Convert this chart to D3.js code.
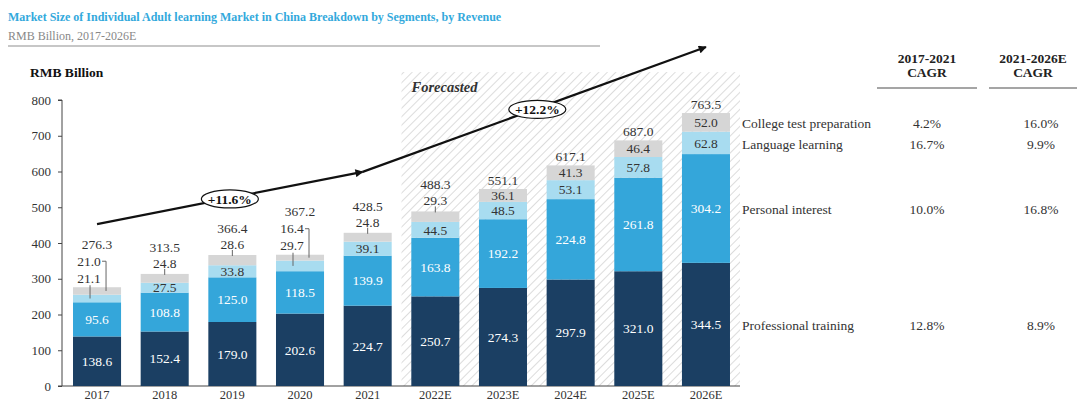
<!DOCTYPE html>
<html>
<head>
<meta charset="utf-8">
<script src="https://cdn.jsdelivr.net/npm/d3@7"></script>
<style>
body { margin: 0; background: #fff; }
svg { font-family: "Liberation Serif", "Times New Roman", serif; }
</style>
</head>
<body>
<svg class="chart"></svg>
<script>
// data
var years = ["2017", "2018", "2019", "2020", "2021", "2022E", "2023E", "2024E", "2025E", "2026E"];
var forecastYears = ["2022E", "2023E", "2024E", "2025E", "2026E"];
var professional = [138.6, 152.4, 179.0, 202.6, 224.7, 250.7, 274.3, 297.9, 321.0, 344.5];
var personal = [95.6, 108.8, 125.0, 118.5, 139.9, 163.8, 192.2, 224.8, 261.8, 304.2];
var language = [21.1, 27.5, 33.8, 29.7, 39.1, 44.5, 48.5, 53.1, 57.8, 62.8];
var college = [21.0, 24.8, 28.6, 16.4, 24.8, 29.3, 36.1, 41.3, 46.4, 52.0];
var totals = [276.3, 313.5, 366.4, 367.2, 428.5, 488.3, 551.1, 617.1, 687.0, 763.5];
var segments = ["Professional training", "Personal interest", "Language learning", "College test preparation"];
var cagrHist = ["12.8%", "10.0%", "16.7%", "4.2%"];
var cagrFcst = ["8.9%", "16.8%", "9.9%", "16.0%"];
var cagrHeads = [["2017-2021", "CAGR"], ["2021-2026E", "CAGR"]];
var yTicks = [0, 100, 200, 300, 400, 500, 600, 700, 800];
var trend = [
    {from: "2017", v0: 453, to: "2021", v1: 599, label: "+11.6%"},
    {from: "2021", v0: 599, to: "2026E", v1: 948, label: "+12.2%"}
];

var colors = ["#1b3f63", "#34a6da", "#a8dcf0", "#d6d6d6"];
var txtColors = ["#fff", "#fff", "#333", "#333"];

// which years have the small segments called out above the bar
var bracketYears = ["2017", "2020"];
var tickYears = ["2018", "2019", "2021", "2022E"];

var width = 1077, height = 403;
var svg = d3.select(".chart").attr("width", width).attr("height", height);

var defs = svg.append("defs");
var pat = defs.append("pattern")
    .attr("id", "hatch")
    .attr("patternUnits", "userSpaceOnUse")
    .attr("width", 6).attr("height", 6)
    .attr("patternTransform", "rotate(45)");
pat.append("line").attr("x1", 0).attr("y1", 0).attr("x2", 0).attr("y2", 6)
    .attr("stroke", "#dcdcdc").attr("stroke-width", 2);

defs.append("marker")
    .attr("id", "arrow")
    .attr("viewBox", "0 0 10 10")
    .attr("refX", 9).attr("refY", 5)
    .attr("markerWidth", 9).attr("markerHeight", 8)
    .attr("markerUnits", "userSpaceOnUse")
    .attr("orient", "auto")
    .append("path").attr("d", "M0,0 L10,5 L0,10 z").attr("fill", "#111");

// title
svg.append("text").attr("x", 8).attr("y", 21)
    .attr("font-size", 12).attr("font-weight", "bold").attr("fill", "#33a9dc")
    .text("Market Size of Individual Adult learning Market in China Breakdown by Segments, by Revenue");
svg.append("text").attr("x", 8).attr("y", 40)
    .attr("font-size", 12).attr("fill", "#888")
    .text("RMB Billion, 2017-2026E");
svg.append("line").attr("x1", 8).attr("x2", 600).attr("y1", 46).attr("y2", 46)
    .attr("stroke", "#b5b5b5").attr("stroke-width", 1.5);

// scales
var x = d3.scaleBand().domain(years).range([63, 740]).paddingInner(0.29).paddingOuter(0.148);
var y = d3.scaleLinear().domain([0, 800]).range([386, 100]);

// forecast area
var fx0 = x(forecastYears[0]) - x.step() * x.paddingInner() / 2;
svg.append("rect")
    .attr("x", fx0).attr("y", y(878))
    .attr("width", x.range()[1] - fx0).attr("height", y(0) - y(878))
    .attr("fill", "url(#hatch)");
svg.append("text").attr("x", fx0 + 10).attr("y", y(878) + 20)
    .attr("font-size", 14.5).attr("font-weight", "bold").attr("font-style", "italic").attr("fill", "#333")
    .text("Forecasted");

svg.append("text").attr("x", 30).attr("y", 77)
    .attr("font-size", 13.5).attr("font-weight", "bold").attr("fill", "#111")
    .text("RMB Billion");

// axes
var yAxis = svg.append("g").attr("transform", "translate(62,0)")
    .call(d3.axisLeft(y).tickValues(yTicks).tickSize(4).tickPadding(7));
yAxis.selectAll("text").attr("font-size", 13).attr("font-family", "Liberation Serif").attr("fill", "#333");
yAxis.selectAll("line, path").attr("stroke", "#444");
yAxis.select(".domain").attr("d", "M-4," + y(800) + "H0V" + y(0));

var xAxis = svg.append("g").attr("transform", "translate(0," + y(0) + ")")
    .call(d3.axisBottom(x).tickSize(0).tickPadding(4));
xAxis.selectAll("text").attr("font-size", 12.5).attr("font-family", "Liberation Serif").attr("fill", "#333");
xAxis.select(".domain").attr("stroke", "#444").attr("d", "M58,0H" + x.range()[1]);

// stacked bars
var rows = years.map(function (yr, i) {
    return {year: yr, s0: professional[i], s1: personal[i], s2: language[i], s3: college[i], total: totals[i]};
});
var stack = d3.stack().keys(["s0", "s1", "s2", "s3"]);
var series = stack(rows);

var layers = svg.selectAll(".layer").data(series).enter()
    .append("g").attr("class", "layer")
    .attr("fill", function (d, k) { return colors[k]; });

layers.selectAll("rect").data(function (d) { return d; }).enter()
    .append("rect")
    .attr("x", function (d) { return x(d.data.year); })
    .attr("width", x.bandwidth())
    .attr("y", function (d) { return y(d[1]); })
    .attr("height", function (d) { return y(d[0]) - y(d[1]); });

var labels = svg.append("g").attr("font-size", 13.5).attr("text-anchor", "middle");

series.forEach(function (s, k) {
    s.forEach(function (d) {
        var yr = d.data.year;
        var cx = x(yr) + x.bandwidth() / 2;
        var top = y(d.data.total);
        var val = d[1] - d[0];
        var mid = y((d[0] + d[1]) / 2);
        var inside = true;
        if (bracketYears.indexOf(yr) >= 0 && k >= 2) inside = false;
        if (tickYears.indexOf(yr) >= 0 && k === 3) inside = false;
        if (inside) {
            labels.append("text").attr("x", cx).attr("y", mid).attr("dy", "0.35em")
                .attr("fill", txtColors[k]).text(val.toFixed(1));
            return;
        }
        if (bracketYears.indexOf(yr) >= 0) {
            if (k === 2) {
                labels.append("text").attr("x", cx - 8).attr("y", top - 9).attr("dy", "0.35em")
                    .attr("fill", "#333").text(val.toFixed(1));
                labels.append("line").attr("x1", cx - 7).attr("x2", cx - 7)
                    .attr("y1", top - 2).attr("y2", mid)
                    .attr("stroke", "#666");
            } else {
                labels.append("text").attr("x", cx - 8).attr("y", top - 26).attr("dy", "0.35em")
                    .attr("fill", "#333").text(val.toFixed(1));
                labels.append("path")
                    .attr("d", "M" + (cx + 5) + "," + (top - 26) + "H" + (cx + 9) + "V" + mid)
                    .attr("fill", "none").attr("stroke", "#666");
            }
        } else {
            labels.append("text").attr("x", cx).attr("y", top - 11).attr("dy", "0.35em")
                .attr("fill", "#333").text(val.toFixed(1));
            labels.append("line").attr("x1", cx).attr("x2", cx)
                .attr("y1", top - 5).attr("y2", top + 1)
                .attr("stroke", "#666");
        }
    });
});

// totals
rows.forEach(function (r) {
    var cx = x(r.year) + x.bandwidth() / 2;
    var off = bracketYears.indexOf(r.year) >= 0 ? 43 : (tickYears.indexOf(r.year) >= 0 ? 27 : 9);
    labels.append("text").attr("x", cx).attr("y", y(r.total) - off).attr("dy", "0.35em")
        .attr("fill", "#333").text(r.total.toFixed(1));
});

// CAGR trend arrows
trend.forEach(function (t, i) {
    var x0 = x(t.from) + x.bandwidth() / 2 + (i === 0 ? 0 : -5);
    var x1 = x(t.to) + x.bandwidth() / 2 + (i === 0 ? -5 : 0);
    var y0 = y(t.v0), y1 = y(t.v1);
    svg.append("line").attr("x1", x0).attr("y1", y0).attr("x2", x1).attr("y2", y1)
        .attr("stroke", "#111").attr("stroke-width", 2.2)
        .attr("marker-end", "url(#arrow)");
    var mx = (x0 + x1) / 2 + (i === 0 ? 0 : 3), my = y0 + (y1 - y0) * (mx - x0) / (x1 - x0);
    svg.append("ellipse").attr("cx", mx).attr("cy", my + 1).attr("rx", 28.5).attr("ry", 9)
        .attr("fill", "#fff").attr("stroke", "#111").attr("stroke-width", 1.2);
    svg.append("text").attr("x", mx).attr("y", my + 1).attr("dy", "0.35em")
        .attr("text-anchor", "middle").attr("font-size", 13.5).attr("font-weight", "bold")
        .attr("fill", "#111").text(t.label);
});

// CAGR table on the right
var colX = [927, 1033];
var valX = [927, 1041];
var lineX = [[877, 977], [989, 1077]];
cagrHeads.forEach(function (h, j) {
    h.forEach(function (line, li) {
        svg.append("text").attr("x", colX[j]).attr("y", 63 + li * 14)
            .attr("text-anchor", "middle").attr("font-size", 13.5).attr("font-weight", "bold")
            .attr("fill", "#222").text(line);
    });
    svg.append("line").attr("x1", lineX[j][0]).attr("x2", lineX[j][1]).attr("y1", 88).attr("y2", 88)
        .attr("stroke", "#a5a5a5").attr("stroke-width", 2);
});

var last = series.map(function (s) { return s[s.length - 1]; });
segments.forEach(function (name, k) {
    var yy = y((last[k][0] + last[k][1]) / 2) + 1;
    svg.append("text").attr("x", 742).attr("y", yy).attr("dy", "0.35em")
        .attr("font-size", 13.5).attr("fill", "#333").text(name);
    svg.append("text").attr("x", valX[0]).attr("y", yy).attr("dy", "0.35em")
        .attr("text-anchor", "middle").attr("font-size", 13.5).attr("fill", "#333").text(cagrHist[k]);
    svg.append("text").attr("x", valX[1]).attr("y", yy).attr("dy", "0.35em")
        .attr("text-anchor", "middle").attr("font-size", 13.5).attr("fill", "#333").text(cagrFcst[k]);
});
</script>
</body>
</html>
